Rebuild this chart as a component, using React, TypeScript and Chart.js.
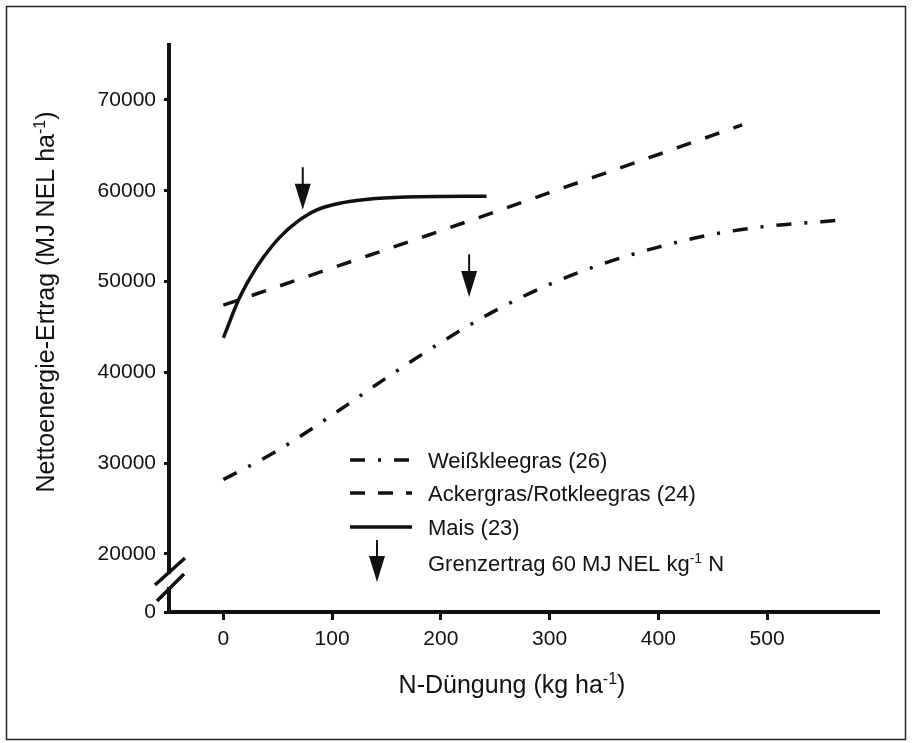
import React, { useEffect, useRef } from 'react';
import { Chart, registerables } from 'chart.js';

Chart.register(...registerables);

const FONT = '"Liberation Sans", Arial, Helvetica, sans-serif';
const INK = '#111';

// ---- data ----
const maisX = [0, 14, 25, 37, 52, 68, 86, 110, 140, 180, 242];
const maisY = [43800, 48000, 50500, 52700, 54900, 56600, 57900, 58700, 59150, 59350, 59400];

const ackerX = [0, 100, 200, 300, 400, 477];
const ackerY = [47400, 51500, 55600, 59800, 64000, 67250];

const weissX = [0, 50, 100, 150, 200, 250, 300, 350, 400, 450, 500, 550, 572];
const weissY = [28200, 31400, 35300, 39400, 43300, 46800, 49700, 52000, 53800, 55200, 56100, 56600, 56800];

// Grenzertrag arrows (x position, arrow top value, arrow tip value)
const arrowX = [73, 226];
const arrowFromY = [62600, 53000];
const arrowToY = [57900, 48300];

const xTickValues = [0, 100, 200, 300, 400, 500];
const yTickValues = [0, 20000, 30000, 40000, 50000, 60000, 70000];

const legendLabels = ['Weißkleegras (26)', 'Ackergras/Rotkleegras (24)', 'Mais (23)'];

const X_MIN = -50;
const X_MAX = 602;
const Y_MIN = 13612; // broken axis: the "0" tick sits at the bottom of the axis
const Y_MAX = 76057;

type Part = { t: string; sup?: boolean };

function drawRich(ctx: CanvasRenderingContext2D, parts: Part[], x: number, y: number, size: number, align: 'left' | 'center') {
  const supSize = Math.round(size * 0.62);
  const widths = parts.map((p) => {
    ctx.font = `${p.sup ? supSize : size}px ${FONT}`;
    return ctx.measureText(p.t).width;
  });
  const total = widths.reduce((a, b) => a + b, 0);
  let cx = align === 'center' ? x - total / 2 : x;
  ctx.textAlign = 'left';
  ctx.textBaseline = 'alphabetic';
  parts.forEach((p, i) => {
    ctx.font = `${p.sup ? supSize : size}px ${FONT}`;
    ctx.fillText(p.t, cx, p.sup ? y - size * 0.36 : y);
    cx += widths[i];
  });
}

function drawArrow(ctx: CanvasRenderingContext2D, x: number, yTop: number, yTip: number) {
  const headLen = 26;
  const headW = 8;
  ctx.save();
  ctx.strokeStyle = INK;
  ctx.fillStyle = INK;
  ctx.lineWidth = 2;
  ctx.setLineDash([]);
  ctx.beginPath();
  ctx.moveTo(x, yTop);
  ctx.lineTo(x, yTip - headLen + 2);
  ctx.stroke();
  ctx.beginPath();
  ctx.moveTo(x - headW, yTip - headLen);
  ctx.lineTo(x + headW, yTip - headLen);
  ctx.lineTo(x, yTip);
  ctx.closePath();
  ctx.fill();
  ctx.restore();
}

const decorPlugin = {
  id: 'decor',
  beforeDraw(chart: any) {
    const ctx = chart.ctx as CanvasRenderingContext2D;
    ctx.save();
    ctx.fillStyle = '#fff';
    ctx.fillRect(0, 0, chart.width, chart.height);
    ctx.strokeStyle = '#222';
    ctx.lineWidth = 1.5;
    ctx.strokeRect(6.5, 6.5, 899, 733);
    ctx.restore();
  },
  afterDraw(chart: any) {
    const ctx = chart.ctx as CanvasRenderingContext2D;
    const xs = chart.scales.x;
    const ys = chart.scales.y;
    ctx.save();
    ctx.fillStyle = INK;
    ctx.strokeStyle = INK;

    // axis break on the y axis
    ctx.fillStyle = '#fff';
    ctx.fillRect(162, 574, 12, 13);
    ctx.fillStyle = INK;
    ctx.lineWidth = 3.5;
    ctx.lineCap = 'butt';
    ctx.beginPath();
    ctx.moveTo(155, 585);
    ctx.lineTo(185, 558);
    ctx.moveTo(157, 601);
    ctx.lineTo(184, 574);
    ctx.stroke();

    // axis titles
    drawRich(ctx, [{ t: 'N-Düngung (kg ha' }, { t: '-1', sup: true }, { t: ')' }], 512, 693, 25, 'center');
    ctx.save();
    ctx.translate(54, 302);
    ctx.rotate(-Math.PI / 2);
    drawRich(ctx, [{ t: 'Nettoenergie-Ertrag (MJ NEL ha' }, { t: '-1', sup: true }, { t: ')' }], 0, 0, 25, 'center');
    ctx.restore();

    // arrows in the plot
    arrowX.forEach((v, i) => {
      drawArrow(ctx, xs.getPixelForValue(v), ys.getPixelForValue(arrowFromY[i]), ys.getPixelForValue(arrowToY[i]));
    });

    // legend
    const rows = [460, 493, 527];
    const dashes = [[15, 13, 3, 13], [15, 13], []];
    ctx.lineWidth = 3.5;
    rows.forEach((ry, i) => {
      ctx.setLineDash(dashes[i]);
      ctx.beginPath();
      ctx.moveTo(350, ry);
      ctx.lineTo(412, ry);
      ctx.stroke();
      ctx.setLineDash([]);
      drawRich(ctx, [{ t: legendLabels[i] }], 428, ry + 8, 22, 'left');
    });
    drawArrow(ctx, 377, 540, 582);
    drawRich(ctx, [{ t: 'Grenzertrag 60 MJ NEL kg' }, { t: '-1', sup: true }, { t: ' N' }], 428, 571, 22, 'left');
    ctx.restore();
  },
};

export default function App() {
  const ref = useRef<HTMLCanvasElement | null>(null);

  useEffect(() => {
    if (!ref.current) return;
    const toPts = (xs: number[], ys: number[]) => xs.map((x, i) => ({ x, y: ys[i] }));
    const chart = new Chart(ref.current, {
      type: 'scatter',
      data: {
        datasets: [
          {
            label: legendLabels[0],
            data: toPts(weissX, weissY),
            showLine: true,
            borderColor: INK,
            borderWidth: 3.5,
            borderDash: [15, 13, 3, 13],
            pointRadius: 0,
            cubicInterpolationMode: 'monotone',
          },
          {
            label: legendLabels[1],
            data: toPts(ackerX, ackerY),
            showLine: true,
            borderColor: INK,
            borderWidth: 3.5,
            borderDash: [15, 15],
            pointRadius: 0,
            cubicInterpolationMode: 'monotone',
          },
          {
            label: legendLabels[2],
            data: toPts(maisX, maisY),
            showLine: true,
            borderColor: INK,
            borderWidth: 3.5,
            pointRadius: 0,
            cubicInterpolationMode: 'monotone',
          },
        ],
      },
      options: {
        animation: false,
        responsive: false,
        devicePixelRatio: 1,
        layout: { padding: { left: 0, top: 45, right: 36, bottom: 0 } },
        plugins: { legend: { display: false }, tooltip: { enabled: false }, title: { display: false } },
        scales: {
          x: {
            type: 'linear',
            min: X_MIN,
            max: X_MAX,
            afterFit: (s: any) => { s.height = 131; },
            afterBuildTicks: (s: any) => { s.ticks = xTickValues.map((v) => ({ value: v })); },
            border: { display: true, color: INK, width: 4 },
            grid: { display: true, drawOnChartArea: false, drawTicks: true, tickLength: 8, lineWidth: 3, color: INK },
            ticks: {
              color: INK,
              padding: 7,
              font: { family: FONT, size: 21 },
              callback: (v: any) => String(v),
            },
          },
          y: {
            type: 'linear',
            min: Y_MIN,
            max: Y_MAX,
            afterFit: (s: any) => { s.width = 169; },
            afterBuildTicks: (s: any) => {
              s.ticks = yTickValues.map((v) => ({ value: v === 0 ? Y_MIN : v }));
            },
            border: { display: true, color: INK, width: 4 },
            grid: { display: true, drawOnChartArea: false, drawTicks: true, tickLength: 5, lineWidth: 3, color: INK },
            ticks: {
              color: INK,
              padding: 8,
              font: { family: FONT, size: 21 },
              callback: (v: any) => (v <= Y_MIN ? String(yTickValues[0]) : String(v)),
            },
          },
        },
      } as any,
      plugins: [decorPlugin],
    });
    return () => chart.destroy();
  }, []);

  return (
    <div style={{ position: 'fixed', left: 0, top: 0, width: 914, height: 743, background: '#fff' }}>
      <canvas ref={ref} width={914} height={743} style={{ display: 'block' }} />
    </div>
  );
}
